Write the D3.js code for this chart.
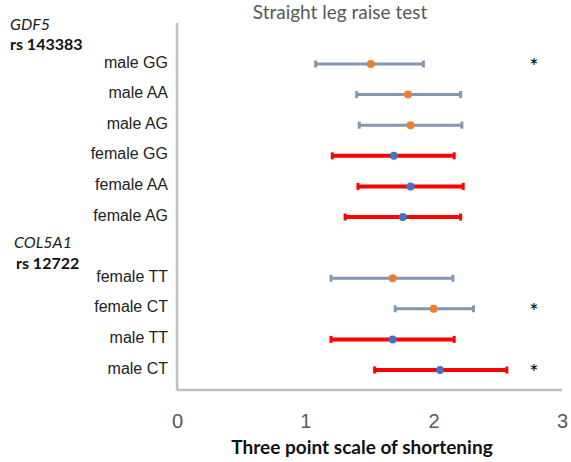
<!DOCTYPE html>
<html>
<head>
<meta charset="utf-8">
<script src="https://cdn.jsdelivr.net/npm/d3@7"></script>
<style>
  body { margin: 0; background: #fff; }
  svg { display: block; font-family: Lato, "Open Sans", sans-serif; }
</style>
</head>
<body>
<div id="chart"></div>
<script>
// rows, top to bottom
const categories = ["male GG", "male AA", "male AG", "female GG", "female AA", "female AG",
                    "female TT", "female CT", "male TT", "male CT"];
const means = [1.51, 1.80, 1.82, 1.69, 1.82, 1.76, 1.68, 2.00, 1.68, 2.05];
const lows  = [1.08, 1.40, 1.42, 1.21, 1.41, 1.31, 1.20, 1.70, 1.20, 1.54];
const highs = [1.92, 2.21, 2.22, 2.16, 2.23, 2.21, 2.15, 2.31, 2.16, 2.57];
const series = ["a", "a", "a", "b", "b", "b", "a", "a", "b", "b"];
const stars = [true, false, false, false, false, false, false, true, false, true];
const groups = [
  {gene: "GDF5", snp: "rs 143383", first: "male GG"},
  {gene: "COL5A1", snp: "rs 12722", first: "female TT"}
];
const xTicks = [0, 1, 2, 3];

const larg = 571, alt = 462;
const barCor = {a: "#8497B0", b: "#FF0000"};
const dotCor = {a: "#ED7D31", b: "#4472C4"};

let rows = categories.map((c, i) => ({
  cat: c, mean: means[i], low: lows[i], high: highs[i], s: series[i], star: stars[i]
}));

// blank slot between the two genes
let dominio = categories.slice(0, 6).concat(["_gap"], categories.slice(6));

let canvas = d3.select("#chart").append("svg")
  .attr("width", larg)
  .attr("height", alt);

let x = d3.scaleLinear().domain([0, 3]).range([177, 562]);
let y = d3.scalePoint().domain(dominio).range([64, 370]);

// axis lines
canvas.append("line")
  .attr("x1", x(0)).attr("x2", x(0))
  .attr("y1", 23).attr("y2", 390)
  .attr("stroke", "#BFBFBF").attr("stroke-width", 2.5);
canvas.append("line")
  .attr("x1", x(0)).attr("x2", x(3))
  .attr("y1", 390).attr("y2", 390)
  .attr("stroke", "#BFBFBF").attr("stroke-width", 2.5);

// category labels
let eixoY = d3.axisLeft(y).tickSize(0).tickPadding(9)
  .tickFormat(d => d === "_gap" ? "" : d);
let gy = canvas.append("g")
  .attr("transform", `translate(${x(0)},-2)`)
  .call(eixoY);
gy.select(".domain").remove();
gy.selectAll("text")
  .style("font-size", "16px")
  .attr("fill", "#222");

// x tick labels
let eixoX = d3.axisBottom(x).tickValues(xTicks).tickSize(0).tickPadding(0)
  .tickFormat(d3.format("d"));
let gx = canvas.append("g")
  .attr("transform", "translate(0,414)")
  .call(eixoX);
gx.select(".domain").remove();
gx.selectAll("text")
  .style("font-size", "20px")
  .attr("fill", "#595959");

// error bars
let barras = canvas.append("g").selectAll("g")
  .data(rows)
  .enter()
    .append("g")
    .attr("transform", d => `translate(0,${y(d.cat)})`);

barras.append("line")
  .attr("x1", d => x(d.low))
  .attr("x2", d => x(d.high))
  .attr("stroke", d => barCor[d.s])
  .attr("stroke-width", d => d.s === "b" ? 4 : 3);

barras.selectAll("rect.cap")
  .data(d => [{v: d.low, s: d.s}, {v: d.high, s: d.s}])
  .enter()
    .append("rect")
    .attr("class", "cap")
    .attr("x", d => x(d.v) - 1.5)
    .attr("y", -3.5)
    .attr("width", 3)
    .attr("height", 7)
    .attr("fill", d => barCor[d.s]);

barras.append("circle")
  .attr("cx", d => x(d.mean))
  .attr("r", 4)
  .attr("fill", d => dotCor[d.s]);

barras.filter(d => d.star)
  .append("text")
  .attr("x", 534)
  .attr("y", 10)
  .attr("text-anchor", "middle")
  .style("font-size", "21px")
  .attr("fill", "#000")
  .text("*");

// gene / snp headers
groups.forEach((g, i) => {
  let topo = y(g.first);
  canvas.append("text")
    .attr("x", i === 0 ? 10 : 14)
    .attr("y", topo - (i === 0 ? 34 : 30))
    .style("font-size", "16px")
    .style("font-style", "italic")
    .attr("fill", "#222")
    .text(g.gene);
  canvas.append("text")
    .attr("x", i === 0 ? 10 : 16)
    .attr("y", topo - (i === 0 ? 14 : 9))
    .style("font-size", "16px")
    .style("font-weight", "bold")
    .attr("fill", "#111")
    .text(g.snp);
});

// title
canvas.append("text")
  .attr("x", 340)
  .attr("y", 19)
  .attr("text-anchor", "middle")
  .style("font-size", "19px")
  .attr("fill", "#595959")
  .text("Straight leg raise test");

// x axis title
canvas.append("text")
  .attr("x", 362)
  .attr("y", 454)
  .attr("text-anchor", "middle")
  .style("font-size", "19px")
  .style("font-weight", "bold")
  .attr("fill", "#111")
  .text("Three point scale of shortening");
</script>
</body>
</html>
